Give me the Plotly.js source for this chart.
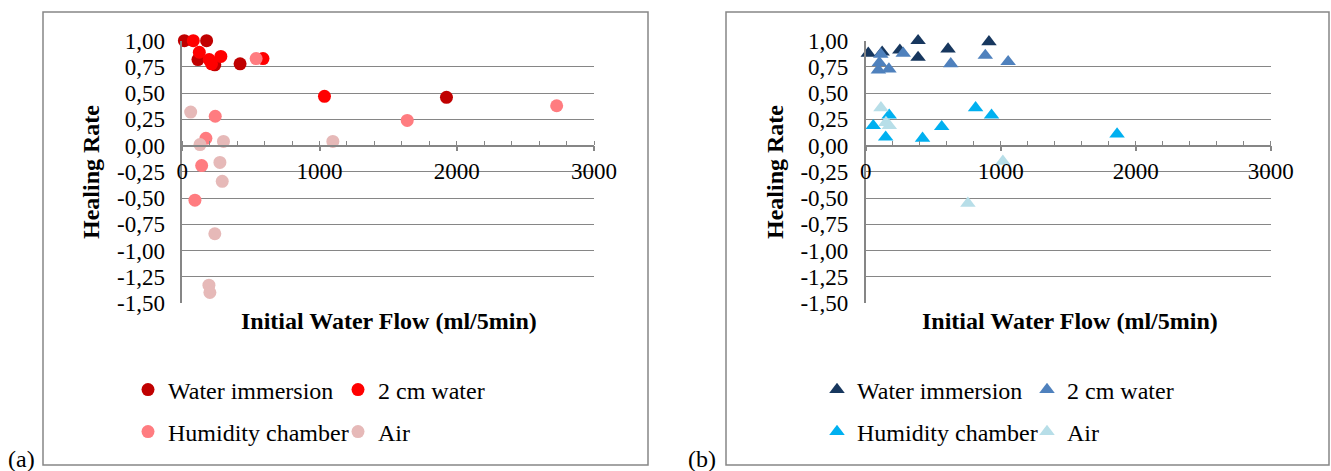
<!DOCTYPE html>
<html>
<head>
<meta charset="utf-8">
<script src="https://cdn.plot.ly/plotly-3.0.1.min.js"></script>
<style>html,body{margin:0;padding:0;background:#fff;}#chart{width:1331px;height:471px;}</style>
</head>
<body>
<div id="chart"></div>
<script>
// ---------- data ----------
const seriesNames = ["Water immersion", "2 cm water", "Humidity chamber", "Air"];

// (a) circles
const waterImmA_x = [15, 177, 114, 237, 421, 1925];
const waterImmA_y = [1.00, 1.00, 0.82, 0.77, 0.78, 0.46];
const cm2A_x = [80, 124, 281, 196, 213, 588, 1036];
const cm2A_y = [1.00, 0.89, 0.85, 0.82, 0.78, 0.83, 0.47];
const humidA_x = [538, 240, 1639, 172, 141, 92, 2728];
const humidA_y = [0.83, 0.28, 0.24, 0.07, -0.19, -0.52, 0.38];
const airA_x = [61, 129, 300, 1097, 274, 291, 237, 194, 201];
const airA_y = [0.32, 0.01, 0.04, 0.04, -0.16, -0.34, -0.84, -1.33, -1.40];

// (b) triangles
const waterImmB_x = [19, 122, 253, 388, 388, 610, 913];
const waterImmB_y = [0.88, 0.89, 0.91, 1.00, 0.84, 0.92, 0.99];
const cm2B_x = [112, 101, 94, 172, 278, 630, 886, 1055];
const cm2B_y = [0.87, 0.79, 0.72, 0.73, 0.88, 0.78, 0.86, 0.80];
const humidB_x = [174, 56, 148, 421, 563, 814, 932, 1862];
const humidB_y = [0.29, 0.19, 0.08, 0.07, 0.18, 0.36, 0.29, 0.11];
const airB_x = [113, 150, 175, 1016, 757, 3008];
const airB_y = [0.36, 0.22, 0.19, -0.15, -0.55, 0.09];

const yTickVals = [1.00, 0.75, 0.50, 0.25, 0.00, -0.25, -0.50, -0.75, -1.00, -1.25, -1.50];
const yTickText = ["1,00", "0,75", "0,50", "0,25", "0,00", "-0,25", "-0,50", "-0,75", "-1,00", "-1,25", "-1,50"];
const xTickVals = [0, 1000, 2000, 3000];
const xTickText = ["0", "1000", "2000", "3000"];

const colorsA = ["#C00000", "#FF0000", "#FF7C80", "#E6B9B8"];
const colorsB = ["#17375E", "#4F81BD", "#00B0F0", "#B7DEE8"];

// ---------- layout helpers ----------
const PW = 1331, PH = 471;
const fx = px => px / PW;
const fy = py => 1 - py / PH;
const SERIF = "Liberation Serif";
const GRAY = "#868686";

const yRange = [-1.5, 1.0];
const yDom = [fy(303), fy(40.7)];
const zeroPos = yDom[0] + (0 - yRange[0]) / (yRange[1] - yRange[0]) * (yDom[1] - yDom[0]);

function mk(x, y, name, color, symbol, xa, ya, leg) {
  return {
    type: "scatter", mode: "markers", x: x, y: y, name: name,
    xaxis: xa, yaxis: ya, legend: leg, cliponaxis: false,
    marker: { color: color, size: symbol === "circle" ? 13 : 13.5, symbol: symbol, line: { width: 0 } },
    hoverinfo: "x+y+name"
  };
}

const data = [
  mk(waterImmA_x, waterImmA_y, seriesNames[0], colorsA[0], "circle", "x", "y", "legend"),
  mk(cm2A_x, cm2A_y, seriesNames[1], colorsA[1], "circle", "x", "y", "legend"),
  mk(humidA_x, humidA_y, seriesNames[2], colorsA[2], "circle", "x", "y", "legend2"),
  mk(airA_x, airA_y, seriesNames[3], colorsA[3], "circle", "x", "y", "legend2"),
  mk(waterImmB_x, waterImmB_y, seriesNames[0], colorsB[0], "triangle-up", "x2", "y2", "legend3"),
  mk(cm2B_x, cm2B_y, seriesNames[1], colorsB[1], "triangle-up", "x2", "y2", "legend3"),
  mk(humidB_x, humidB_y, seriesNames[2], colorsB[2], "triangle-up", "x2", "y2", "legend4"),
  mk(airB_x, airB_y, seriesNames[3], colorsB[3], "triangle-up", "x2", "y2", "legend4")
];

function xAxis(dom) {
  return {
    domain: dom, range: [0, 3000], anchor: "free", position: zeroPos,
    showline: true, linecolor: GRAY, linewidth: 1.5,
    ticks: "outside", ticklen: 5, tickwidth: 1.5, tickcolor: GRAY,
    tickvals: xTickVals, ticktext: xTickText,
    minor: { dtick: 200, tick0: 0, ticks: "inside", ticklen: 4, tickwidth: 1, tickcolor: GRAY, showgrid: false },
    ticklabelstandoff: 0,
    showgrid: false, zeroline: false, fixedrange: true,
    tickfont: { family: SERIF, size: 23, color: "#000" }
  };
}
function xOverlay(base) {
  return {
    overlaying: base, matches: base, anchor: "free", position: zeroPos,
    range: [0, 3000], showline: false, showgrid: false, zeroline: false,
    ticks: "inside", ticklen: 6, tickwidth: 1.5, tickcolor: GRAY,
    tickvals: xTickVals, showticklabels: false, fixedrange: true
  };
}
function yAxis(anchor) {
  return {
    domain: yDom, range: yRange, anchor: anchor,
    showline: true, linecolor: GRAY, linewidth: 1.5,
    showgrid: true, gridcolor: GRAY, gridwidth: 1,
    tickvals: yTickVals, ticktext: yTickText, ticks: "",
    ticklabelstandoff: 11, zeroline: false, fixedrange: true,
    tickfont: { family: SERIF, size: 23, color: "#000" }
  };
}
function legendAt(xpx, ypx) {
  return {
    x: fx(xpx), y: fy(ypx), xanchor: "left", yanchor: "middle",
    orientation: "h", entrywidth: 165, entrywidthmode: "pixels",
    bgcolor: "rgba(0,0,0,0)", borderwidth: 0,
    font: { family: SERIF, size: 24, color: "#000" }
  };
}
function note(text, xpx, ypx, angle) {
  return { text: text, xref: "paper", yref: "paper", x: fx(xpx), y: fy(ypx), textangle: angle || 0,
    showarrow: false, xanchor: "center", yanchor: "middle", font: { family: SERIF, size: 24, color: "#000" } };
}

const layout = {
  width: PW, height: PH, margin: { l: 0, r: 0, t: 0, b: 0 },
  paper_bgcolor: "#fff", plot_bgcolor: "rgba(0,0,0,0)",
  font: { family: SERIF, size: 23, color: "#000" },
  xaxis: xAxis([fx(182.3), fx(594)]),
  yaxis: yAxis("x"),
  xaxis2: xAxis([fx(865.7), fx(1270.7)]),
  yaxis2: yAxis("x2"),
  xaxis3: xOverlay("x"),
  xaxis4: xOverlay("x2"),
  legend: legendAt(128, 390),
  legend2: legendAt(128, 432),
  legend3: legendAt(817, 390),
  legend4: legendAt(817, 432),
  shapes: [
    { type: "rect", xref: "paper", yref: "paper", x0: fx(43), x1: fx(648), y0: fy(465), y1: fy(12), line: { color: GRAY, width: 1.5 }, layer: "below" },
    { type: "rect", xref: "paper", yref: "paper", x0: fx(726), x1: fx(1329), y0: fy(465), y1: fy(12), line: { color: GRAY, width: 1.5 }, layer: "below" }
  ],
  annotations: [
    note("<b>Healing Rate</b>", 91, 172, -90),
    note("<b>Healing Rate</b>", 775, 172, -90),
    note("<b>Initial Water Flow (ml/5min)</b>", 389, 321),
    note("<b>Initial Water Flow (ml/5min)</b>", 1070, 321),
    note("(a)", 21, 459),
    note("(b)", 702, 459)
  ]
};

Plotly.newPlot("chart", data, layout, { displayModeBar: false });
</script>
</body>
</html>
